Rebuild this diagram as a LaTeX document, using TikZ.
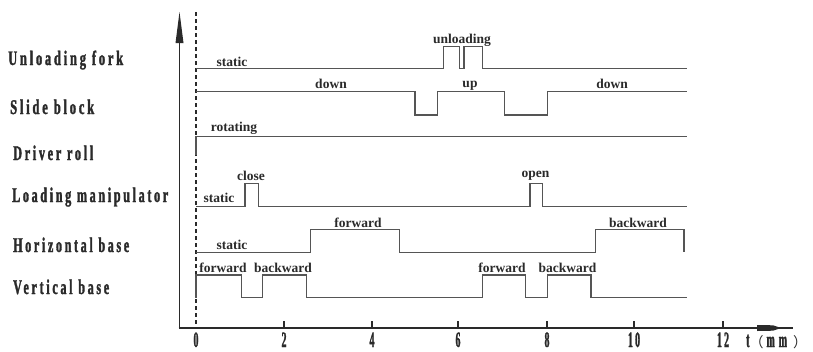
\documentclass[tikz,border=0pt]{standalone}
\usepackage{graphicx}
\usepackage{fontspec}
\setmainfont{Liberation Serif}
\newfontfamily\condfont[FakeStretch=0.45,LetterSpace=10,FakeBold=1.2]{Liberation Serif}
\newfontfamily\cjk{Noto Sans CJK SC}
\usetikzlibrary{arrows.meta}
\definecolor{ink}{HTML}{2A2A2A}
\definecolor{sig}{HTML}{555555}
\newcommand\fitlabel[2]{\resizebox{#1pt}{14.5pt}{#2}}
\tikzset{
  rowlabel/.style={anchor=base west,inner sep=0pt,text=ink,font=\condfont\bfseries\fontsize{22}{22}\selectfont},
  siglabel/.style={anchor=base,inner sep=0pt,text=ink,font=\bfseries\fontsize{13.5}{13.5}\selectfont},
  ticklabel/.style={anchor=base,inner sep=0pt,text=ink,font=\condfont\bfseries\fontsize{22}{22}\selectfont},
  signal/.style={draw=sig,line width=1.1pt,line join=miter},
  axisline/.style={draw=ink,line width=1.8pt},
  tickmark/.style={draw=ink,line width=1.4pt},
}
\begin{document}
\begin{tikzpicture}[x=1pt,y=-1pt]
\useasboundingbox (0,0) rectangle (813,351);
\fill[white] (0,0) rectangle (813,351);

% row labels
\node[rowlabel] (uf) at (8,65) {\fitlabel{115}{Unloading fork}};
\node[rowlabel] (sb) at (10,114) {\fitlabel{84}{Slide block}};
\node[rowlabel] (dr) at (13,160) {\fitlabel{80}{Driver roll}};
\node[rowlabel] (lm) at (12,202) {\fitlabel{156}{Loading manipulator}};
\node[rowlabel] (hb) at (13,252) {\fitlabel{116}{Horizontal base}};
\node[rowlabel] (vb) at (13,294) {\fitlabel{96}{Vertical base}};

% axes
\draw[axisline] (179.5,328) -- (179.5,40);
\fill[ink] (175.5,43) -- (179.5,12) -- (183.5,43) -- cycle;
\draw[axisline] (178.6,328) -- (793,328);
\fill[ink] (757,325) -- (773,325.3) -- (781,328) -- (773,330.7) -- (757,331) -- cycle;
\draw[draw=ink,line width=1.5pt,dash pattern=on 4pt off 3pt] (196,12) -- (196,328);

% ticks
\foreach \x/\t in {284/2,372/4,458/6,547/8,634/10,723/12}{
  \draw[tickmark] (\x,328) -- (\x,321);
  \node[ticklabel] (tick\t) at (\x,347) {\t};
}
\node[ticklabel] (tick0) at (196,347) {0};
\node[ticklabel,anchor=base west] (unit) at (746,347) {t{\cjk\mdseries\fontsize{14}{14}\selectfont （}\hspace{3pt}m\hspace{4pt}m\hspace{6pt}{\cjk\mdseries\fontsize{14}{14}\selectfont ）}};

% Unloading fork
\draw[signal] (196,68.3) -- (443.3,68.3) -- (443.3,46.7) -- (459.3,46.7) -- (459.3,68.3)
  -- (464,68.3) -- (464,46.7) -- (482.7,46.7) -- (482.7,68.3) -- (686.7,68.3);
\node[siglabel] (ufs) at (232,66.5) {static};
\node[siglabel] (ufu) at (462,43) {unloading};

% Slide block
\draw[signal] (196,91.7) -- (415,91.7) -- (415,115) -- (437.3,115) -- (437.3,91.7)
  -- (504.3,91.7) -- (504.3,115) -- (547.7,115) -- (547.7,91.7) -- (686.7,91.7);
\node[siglabel] (sbd1) at (331,88) {down};
\node[siglabel] (sbu) at (470,87.5) {up};
\node[siglabel] (sbd2) at (612,88) {down};

% Driver roll
\draw[signal] (196,155) -- (196,136.7) -- (686.7,136.7);
\node[siglabel] (drr) at (234,131) {rotating};

% Loading manipulator
\draw[signal] (196,206.7) -- (245,206.7) -- (245,183.3) -- (258.3,183.3) -- (258.3,206.7)
  -- (530,206.7) -- (530,183.3) -- (542.7,183.3) -- (542.7,206.7) -- (686.7,206.7);
\node[siglabel] (lms) at (219,202) {static};
\node[siglabel] (lmc) at (251,180) {close};
\node[siglabel] (lmo) at (535.5,177) {open};

% Horizontal base
\draw[signal] (196,252.3) -- (310.7,252.3) -- (310.7,229.3) -- (399.3,229.3) -- (399.3,252.3)
  -- (595.7,252.3) -- (595.7,229.3) -- (684,229.3) -- (684,252.3);
\node[siglabel] (hbs) at (232,249.5) {static};
\node[siglabel] (hbf) at (358,227) {forward};
\node[siglabel] (hbb) at (638,227) {backward};

% Vertical base
\draw[signal] (196,297.7) -- (196,275) -- (241.7,275) -- (241.7,297.7) -- (262.7,297.7)
  -- (262.7,275) -- (306.7,275) -- (306.7,297.7) -- (482.7,297.7) -- (482.7,275)
  -- (525.7,275) -- (525.7,297.7) -- (547.7,297.7) -- (547.7,275) -- (591,275)
  -- (591,297.7) -- (686.7,297.7);
\node[siglabel] (vbf1) at (223,272) {forward};
\node[siglabel] (vbb1) at (283,272) {backward};
\node[siglabel] (vbf2) at (502,272) {forward};
\node[siglabel] (vbb2) at (567.5,272) {backward};
\end{tikzpicture}
\end{document}
